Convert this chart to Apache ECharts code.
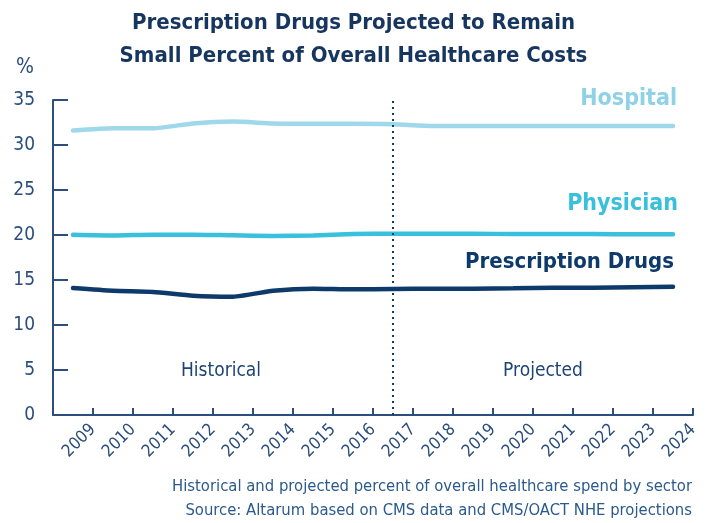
<!DOCTYPE html>
<html>
<head>
<meta charset="utf-8">
<script src="https://cdn.jsdelivr.net/npm/echarts@6/dist/echarts.min.js"></script>
<style>
html,body{margin:0;padding:0;background:#fff;}
#chart{width:707px;height:523px;}
</style>
</head>
<body>
<div id="chart"></div>
<script>
const years = ['2009','2010','2011','2012','2013','2014','2015','2016','2017','2018','2019','2020','2021','2022','2023','2024'];
const hospital = [31.6,31.85,31.85,32.4,32.6,32.4,32.35,32.35,32.3,32.1,32.1,32.1,32.1,32.1,32.1,32.1];
const physician = [20.03,19.95,20.04,20.04,19.96,19.9,19.95,20.1,20.15,20.15,20.15,20.1,20.1,20.1,20.08,20.08];
const rxDrugs = [14.1,13.8,13.67,13.26,13.15,13.8,14.04,13.96,14.0,14.03,14.03,14.07,14.14,14.14,14.2,14.26];
const yTicks = [0,5,10,15,20,25,30,35];
const dividerYear = '2017';

const FONT = "'DejaVu Sans Condensed','Liberation Sans Narrow',sans-serif";
const NAVY = '#0d3a6b';
const AXIS = '#2b4e7c';
const C_HOSP = '#9fd8ea';
const C_PHYS = '#38c0dc';

const chart = echarts.init(document.getElementById('chart'));
chart.setOption({
  animation: false,
  textStyle: {fontFamily: FONT},
  title: {
    text: 'Prescription Drugs Projected to Remain\nSmall Percent of Overall Healthcare Costs',
    left: 'center', top: 2,
    textStyle: {fontFamily: FONT, fontWeight: 'bold', fontSize: 22, lineHeight: 33, color: '#17365f'}
  },
  grid: {left: 53, right: 14, top: 100, bottom: 108, containLabel: false},
  xAxis: [{
    type: 'category', data: years, boundaryGap: true,
    axisLine: {lineStyle: {color: AXIS, width: 2}},
    axisTick: {show: false},
    axisLabel: {show: false},
    splitLine: {show: false}
  }, {
    type: 'value', min: 0, max: years.length, interval: 1, position: 'bottom',
    axisLine: {show: false}, splitLine: {show: false},
    axisTick: {show: true, inside: true, length: 7, lineStyle: {color: AXIS, width: 2}},
    axisLabel: {
      show: true, rotate: 45, margin: 12, fontSize: 17, color: AXIS, fontFamily: FONT,
      showMinLabel: true, showMaxLabel: true,
      formatter: v => (v >= 1 ? years[v - 1] : '')
    }
  }],
  yAxis: {
    type: 'value', min: 0, max: 35, interval: 5,
    name: '%', nameLocation: 'end', nameGap: 22,
    nameTextStyle: {fontSize: 21, color: AXIS, fontFamily: FONT, align: 'right', padding: [0, 19, 0, 0]},
    axisLine: {show: true, lineStyle: {color: AXIS, width: 2}},
    axisTick: {show: true, inside: true, length: 15, lineStyle: {color: AXIS, width: 2}},
    axisLabel: {fontSize: 19, color: AXIS, margin: 18, fontFamily: FONT},
    splitLine: {show: false}
  },
  series: [{
    name: 'Hospital', type: 'line', data: hospital, xAxisIndex: 0,
    smooth: 0.2, symbol: 'none',
    lineStyle: {color: C_HOSP, width: 4.5, cap: 'round'}
  }, {
    name: 'Physician', type: 'line', data: physician, xAxisIndex: 0,
    smooth: 0.2, symbol: 'none',
    lineStyle: {color: C_PHYS, width: 4.5, cap: 'round'}
  }, {
    name: 'Prescription Drugs', type: 'line', data: rxDrugs, xAxisIndex: 0,
    smooth: 0.2, symbol: 'none',
    lineStyle: {color: NAVY, width: 4.5, cap: 'round'},
    markLine: {
      silent: true, symbol: 'none', label: {show: false},
      lineStyle: {color: NAVY, type: [2, 4], width: 2},
      data: [{xAxis: dividerYear}]
    }
  }],
  graphic: [
    {type: 'text', right: 30, top: 88, style: {text: 'Hospital', font: "bold 23px " + FONT, fill: '#8fd2e7'}},
    {type: 'text', right: 29, top: 193, style: {text: 'Physician', font: "bold 23px " + FONT, fill: C_PHYS}},
    {type: 'text', right: 33, top: 251, style: {text: 'Prescription Drugs', font: "bold 22px " + FONT, fill: NAVY}},
    {type: 'text', x: 221, y: 371, style: {text: 'Historical', font: "19px " + FONT, fill: '#1d4474', align: 'center', verticalAlign: 'middle'}},
    {type: 'text', x: 543, y: 371, style: {text: 'Projected', font: "19px " + FONT, fill: '#1d4474', align: 'center', verticalAlign: 'middle'}},
    {type: 'text', x: 692, y: 487, style: {text: 'Historical and projected percent of overall healthcare spend by sector', font: "16.5px " + FONT, fill: '#2b5a8c', align: 'right', verticalAlign: 'middle'}},
    {type: 'text', x: 692, y: 511, style: {text: 'Source: Altarum based on CMS data and CMS/OACT NHE projections', font: "16.5px " + FONT, fill: '#2b5a8c', align: 'right', verticalAlign: 'middle'}}
  ]
});
</script>
</body>
</html>
